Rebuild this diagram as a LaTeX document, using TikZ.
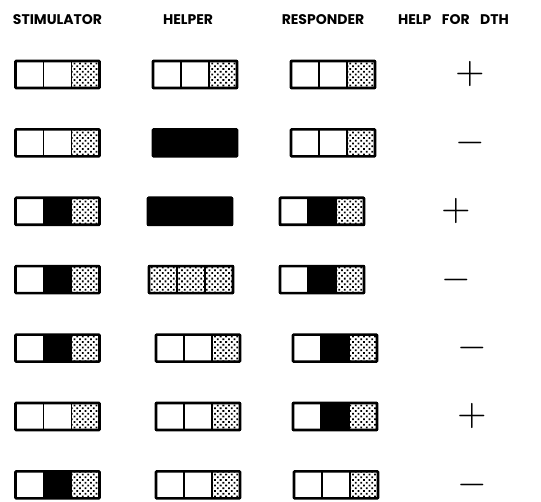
\documentclass[tikz,border=0pt]{standalone}
\usepackage{graphicx}
\usepackage{fontspec}
\setmainfont{Poppins}
\usetikzlibrary{patterns.meta}

\tikzset{
    cell/.style={rectangle, draw, line width=1.5pt, minimum width=28pt, minimum height=27pt, inner sep=0pt, outer sep=0pt},
    wcell/.style={cell, fill=white},
    bcell/.style={cell, fill=black},
    dcell/.style={cell, pattern={Dots[distance=3.9pt, radius=1.25pt, angle=45]}},
    frame/.style={draw, line width=2.6pt, rounded corners=0.8pt},
    head/.style={font=\bfseries\fontsize{14}{15}\selectfont, inner sep=0pt},
    sign/.style={inner sep=0pt}
}

\begin{document}
\begin{tikzpicture}[x=1pt, y=-1pt]
    \useasboundingbox (0,0) rectangle (541,502);

    % Column heads
    \node[head] (hstim) at (57.5,20) {STIMULATOR};
    \node[head] (hhelp) at (188,20) {HELPER};
    \node[head] (hresp) at (323,20) {RESPONDER};
    \node[head] (hdth)  at (453.5,20) {HELP\hspace{0.75em}FOR\hspace{0.75em}DTH};

    % Stimulator boxes
    \foreach \r/\a/\b/\c in {1/wcell/wcell/dcell, 2/wcell/wcell/dcell, 3/wcell/bcell/dcell,
        4/wcell/bcell/dcell, 5/wcell/bcell/dcell, 6/wcell/wcell/dcell, 7/wcell/bcell/dcell} {
        \pgfmathsetmacro\y{74.5+68.4*(\r-1)}
        \node[\a] (s\r a) at (29.5,\y) {};
        \node[\b] (s\r b) at (57.5,\y) {};
        \node[\c] (s\r c) at (85.5,\y) {};
        \draw[frame] (s\r a.north west) rectangle (s\r c.south east);
    }

    % Helper boxes
    \foreach \r/\x/\a/\b/\c in {1/195/wcell/wcell/dcell, 2/195/bcell/bcell/bcell, 3/190/bcell/bcell/bcell,
        4/191/dcell/dcell/dcell, 5/198/wcell/wcell/dcell, 6/198/wcell/wcell/dcell, 7/198/wcell/wcell/dcell} {
        \pgfmathsetmacro\y{74.5+68.4*(\r-1)}
        \node[\a] (h\r a) at (\x-28,\y) {};
        \node[\b] (h\r b) at (\x,\y) {};
        \node[\c] (h\r c) at (\x+28,\y) {};
        \draw[frame] (h\r a.north west) rectangle (h\r c.south east);
    }

    % Responder boxes
    \foreach \r/\x/\a/\b/\c in {1/333/wcell/wcell/dcell, 2/333/wcell/wcell/dcell, 3/322/wcell/bcell/dcell,
        4/322/wcell/bcell/dcell, 5/335/wcell/bcell/dcell, 6/335/wcell/bcell/dcell, 7/336/wcell/wcell/dcell} {
        \pgfmathsetmacro\y{74.5+68.4*(\r-1)}
        \node[\a] (r\r a) at (\x-28,\y) {};
        \node[\b] (r\r b) at (\x,\y) {};
        \node[\c] (r\r c) at (\x+28,\y) {};
        \draw[frame] (r\r a.north west) rectangle (r\r c.south east);
    }

    % Help for DTH
    \foreach \r/\x/\s in {1/470/+, 2/470/-, 3/456/+, 4/456/-, 5/472/-, 6/472/+, 7/472/-} {
        \pgfmathsetmacro\y{74.5+68.4*(\r-1)}
        \node[sign] (d\r) at (\x,\y) {\scalebox{3.8}{$\s$}};
    }
\end{tikzpicture}
\end{document}
